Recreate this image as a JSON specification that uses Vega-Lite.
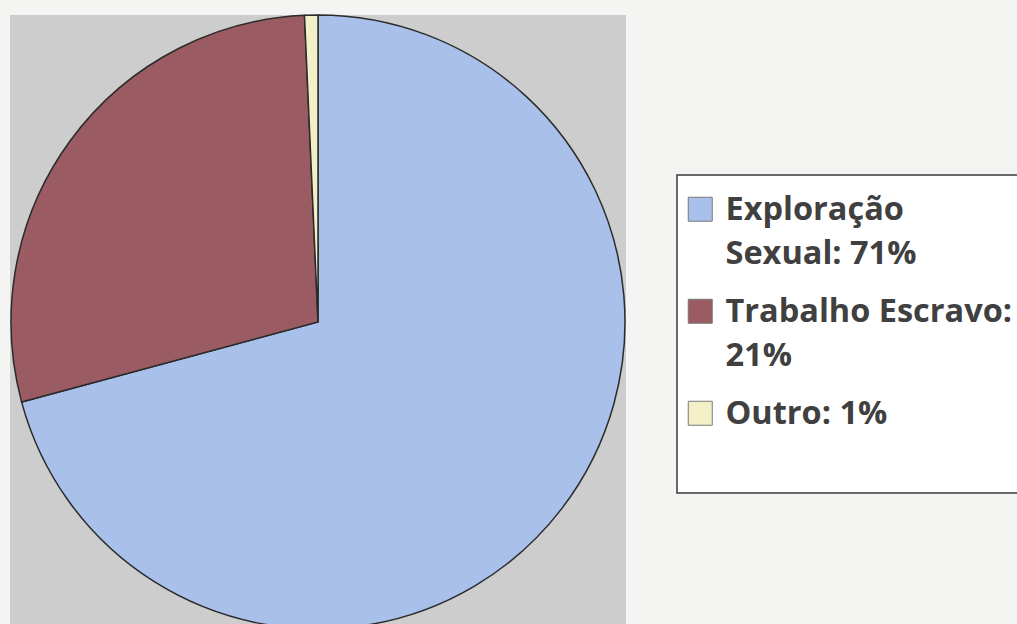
{
  "$schema": "https://vega.github.io/schema/vega-lite/v6.json",
  "width": 616,
  "height": 614,
  "autosize": {"type": "none"},
  "padding": {"left": 10, "top": 15, "right": 391, "bottom": 0},
  "background": "#f4f4f3",
  "view": {"fill": "#cdcdcd", "stroke": null},
  "data": {
    "values": [
      {"categoria": "Exploração Sexual: 71%", "valor": 70.8, "ordem": 1},
      {"categoria": "Trabalho Escravo: 21%", "valor": 28.5, "ordem": 2},
      {"categoria": "Outro: 1%", "valor": 0.7, "ordem": 3}
    ]
  },
  "mark": {"type": "arc", "outerRadius": 307, "stroke": "#2b2b2b", "strokeWidth": 1.5},
  "encoding": {
    "theta": {"field": "valor", "type": "quantitative", "stack": true},
    "order": {"field": "ordem", "type": "quantitative"},
    "color": {
      "field": "categoria",
      "type": "nominal",
      "sort": ["Exploração Sexual: 71%", "Trabalho Escravo: 21%", "Outro: 1%"],
      "scale": {
        "domain": ["Exploração Sexual: 71%", "Trabalho Escravo: 21%", "Outro: 1%"],
        "range": ["#a9c0ea", "#9b5b63", "#f3f0c8"]
      },
      "legend": {
        "orient": "none",
        "legendX": 667,
        "legendY": 160,
        "title": null,
        "fillColor": "#ffffff",
        "strokeColor": "#3a3a3a",
        "padding": 18,
        "symbolOffset": -11,
        "symbolType": "square",
        "symbolSize": 576,
        "symbolStrokeColor": "#7a7a7a",
        "symbolStrokeWidth": 1,
        "labelFont": "Open Sans",
        "labelFontWeight": "bold",
        "labelFontSize": 32.5,
        "labelColor": "#404040",
        "labelOffset": 9,
        "labelLimit": 500,
        "labelBaseline": "alphabetic",
        "rowPadding": 24,
        "labelExpr": "datum.label == 'Exploração Sexual: 71%' ? ['Exploração', 'Sexual: 71%'] : datum.label == 'Trabalho Escravo: 21%' ? ['Trabalho Escravo:', '21%'] : [datum.label, '']",
        "encode": {
          "labels": {"update": {"dy": {"value": 11}, "lineHeight": {"value": 44}}},
          "legend": {"update": {"strokeWidth": {"value": 1.5}}}
        }
      }
    }
  }
}
